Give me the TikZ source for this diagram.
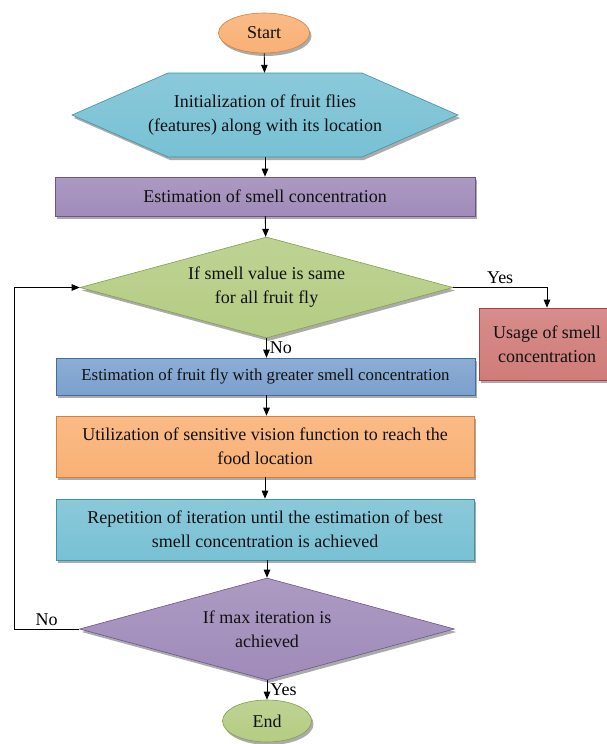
\documentclass[tikz,border=0pt]{standalone}
\usepackage{fontspec}
\setmainfont{Liberation Serif}
\usepackage{xcolor}
\usetikzlibrary{arrows.meta,calc,shapes.geometric,shadows}
\definecolor{fforange}{HTML}{F79646}
\definecolor{ffaqua}{HTML}{4BACC6}
\definecolor{ffpurple}{HTML}{8064A2}
\definecolor{ffgreen}{HTML}{9BBB59}
\definecolor{ffred}{HTML}{C0504D}
\definecolor{ffblue}{HTML}{4F81BD}
\definecolor{fftext}{HTML}{111111}

\begin{document}
\begin{tikzpicture}[x=1pt,y=-1pt,
    font=\fontsize{18}{24}\selectfont, text=fftext,
    shade3/.style={draw=#1!85!black, line width=0.6pt,
      top color=#1!65!white, middle color=#1!95!black, bottom color=#1!75!white,
      drop shadow={shadow xshift=2pt,shadow yshift=-3pt,fill=black!65,opacity=.5}},
    proc/.style={shade3=#1, rectangle, align=center, inner sep=0pt},
    decide/.style={shade3=#1, diamond, shape aspect=3.7, align=center, inner sep=0pt},
    term/.style={shade3=#1, ellipse, inner sep=0pt},
    arr/.style={-{Triangle[length=8pt,width=6.5pt]}, line width=0.9pt, black}]
  \useasboundingbox (0,0) rectangle (606,744);
  \fill[white] (0,0) rectangle (606,744);

  % hexagon behind the first step
  \coordinate (initc) at (265,115);
  \path[shade3=ffaqua] ($(initc)+(-193,0)$) -- ($(initc)+(-97,-42)$) -- ($(initc)+(97,-42)$)
    -- ($(initc)+(193,0)$) -- ($(initc)+(97,42)$) -- ($(initc)+(-97,42)$) -- cycle;

  \node[term=fforange, minimum width=91, minimum height=40] (start) at (264,33) {Start};
  \node[align=center, minimum width=386, minimum height=84, inner sep=0pt] (init) at (initc)
        {Initialization of fruit flies\\(features) along with its location};
  \node[proc=ffpurple, minimum width=420, minimum height=39] (smellest) at (265,196.5)
        {Estimation of smell concentration};
  \node[decide=ffgreen, minimum width=373, minimum height=101] (same) at (266.5,287.5)
        {If smell value is same\\for all fruit fly};
  \node[proc=ffred, minimum width=136, minimum height=72] (usage) at (547,344)
        {Usage of smell\\concentration};
  \node[proc=ffblue, minimum width=419, minimum height=37,
        font=\fontsize{16.8}{22}\selectfont] (greater) at (265.5,376.5)
        {Estimation of fruit fly with greater smell concentration};
  \node[proc=fforange, minimum width=418, minimum height=61] (vision) at (265,446.5)
        {Utilization of sensitive vision function to reach the\\food location};
  \node[proc=ffaqua, minimum width=418, minimum height=61] (repeat) at (265,529.5)
        {Repetition of iteration until the estimation of best\\smell concentration is achieved};
  \node[decide=ffpurple, minimum width=375, minimum height=102] (maxit) at (267,629)
        {If max iteration is\\achieved};
  \node[term=ffgreen, minimum width=89, minimum height=42] (end) at (267,721) {End};
  \coordinate (loopx) at (14,0);

  % main flow
  \draw[arr] (start) -- (init);
  \draw[arr] (init) -- (smellest);
  \draw[arr] (smellest) -- (same);
  \draw[arr] (same.east) -| node[pos=0.25, above] {Yes} (usage.north);
  \draw[arr] (same.south) -- node[right, inner sep=3pt] {No} (greater.north -| same.south);
  \draw[arr] (greater.south -| same.south) -- (vision.north -| same.south);
  \draw[arr] (vision) -- (repeat);
  \draw[arr] (repeat.south -| maxit.north) -- (maxit.north);
  \draw[arr] (maxit.south) -- node[right, inner sep=3pt] {Yes} (end);
  % loop back
  \draw[arr, line width=0.7pt] (maxit.west) -- node[above] {No} (maxit.west -| loopx) |- (same.west);
\end{tikzpicture}
\end{document}
